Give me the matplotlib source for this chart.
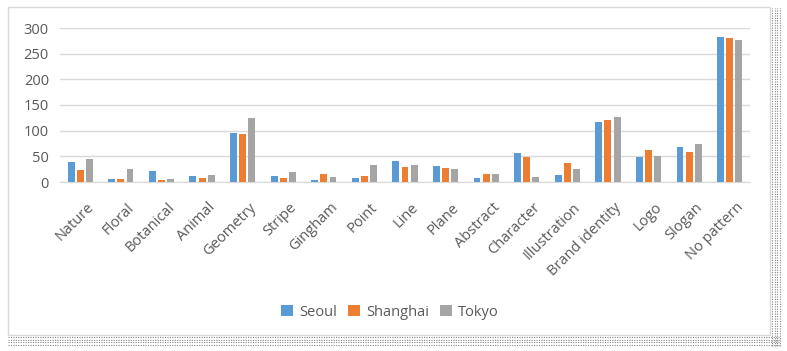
import numpy as np
import matplotlib.pyplot as plt
import matplotlib.transforms as mtransforms
from matplotlib.patches import Rectangle

plt.rcParams['font.family'] = ['Open Sans', 'DejaVu Sans']

categories = ['Nature', 'Floral', 'Botanical', 'Animal', 'Geometry', 'Stripe',
              'Gingham', 'Point', 'Line', 'Plane', 'Abstract', 'Character',
              'Illustration', 'Brand identity', 'Logo', 'Slogan', 'No pattern']
seoul = [39, 5, 21, 12, 95, 12, 3, 8, 41, 31, 8, 57, 14, 117, 49, 68, 283]
shanghai = [23, 6, 3, 8, 93, 8, 15, 12, 30, 28, 16, 49, 37, 120, 62, 59, 280]
tokyo = [45, 25, 5, 14, 124, 19, 10, 33, 34, 25, 15, 10, 25, 126, 51, 75, 276]
yticks = [0, 50, 100, 150, 200, 250, 300]

series = [('Seoul', seoul, '#5B9BD5'),
          ('Shanghai', shanghai, '#ED7D31'),
          ('Tokyo', tokyo, '#A5A5A5')]

fig = plt.figure(figsize=(7.87, 3.51), dpi=100)

# chart frame and dotted shadow
fig.patches.append(Rectangle((8 / 787, 1 - 335 / 351), 762 / 787, 328 / 351,
                             transform=fig.transFigure, fill=False,
                             edgecolor='#D9D9D9', lw=1))
for xp in np.arange(772, 781, 2.5):
    fig.add_artist(plt.Line2D([xp / 787, xp / 787], [1 - 346 / 351, 1 - 8 / 351],
                              transform=fig.transFigure, color='#888888',
                              lw=0.8, ls=(0, (1, 1.2))))
for yp in np.arange(337, 347, 2.5):
    fig.add_artist(plt.Line2D([8 / 787, 780 / 787], [1 - yp / 351, 1 - yp / 351],
                              transform=fig.transFigure, color='#888888',
                              lw=0.8, ls=(0, (1, 1.2))))

ax = fig.add_axes([60 / 787, 1 - 182 / 351, 690 / 787, 154 / 351])
x = np.arange(len(categories))
width = 0.17
offsets = [-0.225, 0, 0.225]
for (name, vals, col), off in zip(series, offsets):
    ax.bar(x + off, vals, width, color=col, label=name, zorder=3)

ax.set_xlim(-0.5, len(categories) - 0.5)
ax.set_ylim(0, 300)
ax.set_yticks(yticks)
ax.yaxis.grid(True, color='#D9D9D9', lw=1)
ax.set_axisbelow(True)
for s in ['top', 'right', 'left']:
    ax.spines[s].set_visible(False)
ax.spines['bottom'].set_color('#D9D9D9')
ax.tick_params(length=0, colors='#595959', labelsize=10.5)
ax.tick_params(axis='y', pad=8)
ax.tick_params(axis='x', pad=13)
ax.set_xticks(x)
ax.set_xticklabels(categories, rotation=45, ha='right', rotation_mode='anchor')
shift = mtransforms.ScaledTranslation(6 / 100, 0, fig.dpi_scale_trans)
for lbl in ax.get_xticklabels():
    lbl.set_transform(lbl.get_transform() + shift)

fig.legend(loc='center', bbox_to_anchor=(390 / 787, 1 - 312 / 351), ncol=3,
           frameon=False, fontsize=10.5, handlelength=0.8, handleheight=0.8,
           handletextpad=0.4, columnspacing=0.8, labelcolor='#595959')

fig.savefig('out.png', dpi=100)
